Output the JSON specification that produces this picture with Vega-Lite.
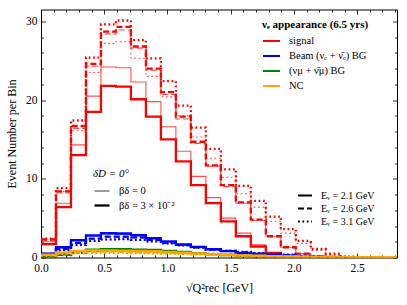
{
  "$schema": "https://vega.github.io/schema/vega-lite/v6.json",
  "width": 356,
  "height": 248,
  "autosize": "none",
  "padding": {"left": 41, "top": 9.5, "right": 10, "bottom": 47.5},
  "config": {
    "font": "Liberation Serif",
    "view": {"stroke": null},
    "axis": {"grid": false, "domainColor": "black", "domainWidth": 1, "tickColor": "black", "tickWidth": 0.8, "labelColor": "black", "titleColor": "black", "labelFont": "Liberation Serif", "titleFont": "Liberation Serif", "labelFontSize": 11.5, "titleFontSize": 12, "titleFontWeight": "normal", "labelOverlap": false, "labelFlush": false},
    "legend": {"labelFont": "Liberation Serif", "titleFont": "Liberation Serif", "labelFontSize": 10.5, "labelColor": "black", "titleColor": "black"}
  },
  "layer": [
    {
      "data": {"values": [
        {"c":"s","b":"3","e":"2.1","x":0,"y":1.7},{"c":"s","b":"3","e":"2.1","x":0.1185,"y":6.4},{"c":"s","b":"3","e":"2.1","x":0.237,"y":13.0},{"c":"s","b":"3","e":"2.1","x":0.3555,"y":18.5},{"c":"s","b":"3","e":"2.1","x":0.474,"y":21.8},{"c":"s","b":"3","e":"2.1","x":0.5925,"y":21.7},{"c":"s","b":"3","e":"2.1","x":0.711,"y":20.1},{"c":"s","b":"3","e":"2.1","x":0.8295,"y":17.9},{"c":"s","b":"3","e":"2.1","x":0.948,"y":15.0},{"c":"s","b":"3","e":"2.1","x":1.0665,"y":12.2},{"c":"s","b":"3","e":"2.1","x":1.185,"y":9.2},{"c":"s","b":"3","e":"2.1","x":1.3035,"y":6.9},{"c":"s","b":"3","e":"2.1","x":1.422,"y":4.6},{"c":"s","b":"3","e":"2.1","x":1.5405,"y":2.7},{"c":"s","b":"3","e":"2.1","x":1.659,"y":1.4},{"c":"s","b":"3","e":"2.1","x":1.7775,"y":0.6},{"c":"s","b":"3","e":"2.1","x":1.896,"y":0.2},{"c":"s","b":"3","e":"2.1","x":2.0145,"y":0},
        {"c":"s","b":"0","e":"2.1","x":0,"y":2.0},{"c":"s","b":"0","e":"2.1","x":0.1185,"y":6.9},{"c":"s","b":"0","e":"2.1","x":0.237,"y":14.3},{"c":"s","b":"0","e":"2.1","x":0.3555,"y":20.5},{"c":"s","b":"0","e":"2.1","x":0.474,"y":24.2},{"c":"s","b":"0","e":"2.1","x":0.5925,"y":24.1},{"c":"s","b":"0","e":"2.1","x":0.711,"y":22.3},{"c":"s","b":"0","e":"2.1","x":0.8295,"y":19.8},{"c":"s","b":"0","e":"2.1","x":0.948,"y":16.6},{"c":"s","b":"0","e":"2.1","x":1.0665,"y":13.5},{"c":"s","b":"0","e":"2.1","x":1.185,"y":10.3},{"c":"s","b":"0","e":"2.1","x":1.3035,"y":7.6},{"c":"s","b":"0","e":"2.1","x":1.422,"y":5.0},{"c":"s","b":"0","e":"2.1","x":1.5405,"y":3.1},{"c":"s","b":"0","e":"2.1","x":1.659,"y":1.6},{"c":"s","b":"0","e":"2.1","x":1.7775,"y":0.6},{"c":"s","b":"0","e":"2.1","x":1.896,"y":0.2},{"c":"s","b":"0","e":"2.1","x":2.0145,"y":0},
        {"c":"s","b":"3","e":"2.6","x":0,"y":2.3},{"c":"s","b":"3","e":"2.6","x":0.1185,"y":8.4},{"c":"s","b":"3","e":"2.6","x":0.237,"y":16.7},{"c":"s","b":"3","e":"2.6","x":0.3555,"y":24.6},{"c":"s","b":"3","e":"2.6","x":0.474,"y":28.7},{"c":"s","b":"3","e":"2.6","x":0.5925,"y":29.3},{"c":"s","b":"3","e":"2.6","x":0.711,"y":26.8},{"c":"s","b":"3","e":"2.6","x":0.8295,"y":24.0},{"c":"s","b":"3","e":"2.6","x":0.948,"y":21.0},{"c":"s","b":"3","e":"2.6","x":1.0665,"y":17.9},{"c":"s","b":"3","e":"2.6","x":1.185,"y":14.7},{"c":"s","b":"3","e":"2.6","x":1.3035,"y":11.7},{"c":"s","b":"3","e":"2.6","x":1.422,"y":9.2},{"c":"s","b":"3","e":"2.6","x":1.5405,"y":7.0},{"c":"s","b":"3","e":"2.6","x":1.659,"y":4.8},{"c":"s","b":"3","e":"2.6","x":1.7775,"y":2.7},{"c":"s","b":"3","e":"2.6","x":1.896,"y":1.3},{"c":"s","b":"3","e":"2.6","x":2.0145,"y":0.5},{"c":"s","b":"3","e":"2.6","x":2.133,"y":0.1},{"c":"s","b":"3","e":"2.6","x":2.2515,"y":0},
        {"c":"s","b":"0","e":"2.6","x":0,"y":2.2},{"c":"s","b":"0","e":"2.6","x":0.1185,"y":8.2},{"c":"s","b":"0","e":"2.6","x":0.237,"y":16.4},{"c":"s","b":"0","e":"2.6","x":0.3555,"y":24.3},{"c":"s","b":"0","e":"2.6","x":0.474,"y":28.4},{"c":"s","b":"0","e":"2.6","x":0.5925,"y":28.9},{"c":"s","b":"0","e":"2.6","x":0.711,"y":26.6},{"c":"s","b":"0","e":"2.6","x":0.8295,"y":23.8},{"c":"s","b":"0","e":"2.6","x":0.948,"y":20.7},{"c":"s","b":"0","e":"2.6","x":1.0665,"y":17.6},{"c":"s","b":"0","e":"2.6","x":1.185,"y":14.5},{"c":"s","b":"0","e":"2.6","x":1.3035,"y":11.6},{"c":"s","b":"0","e":"2.6","x":1.422,"y":9.0},{"c":"s","b":"0","e":"2.6","x":1.5405,"y":6.9},{"c":"s","b":"0","e":"2.6","x":1.659,"y":4.7},{"c":"s","b":"0","e":"2.6","x":1.7775,"y":2.7},{"c":"s","b":"0","e":"2.6","x":1.896,"y":1.3},{"c":"s","b":"0","e":"2.6","x":2.0145,"y":0.5},{"c":"s","b":"0","e":"2.6","x":2.133,"y":0.1},{"c":"s","b":"0","e":"2.6","x":2.2515,"y":0},
        {"c":"s","b":"3","e":"3.1","x":0,"y":2.4},{"c":"s","b":"3","e":"3.1","x":0.1185,"y":8.8},{"c":"s","b":"3","e":"3.1","x":0.237,"y":17.4},{"c":"s","b":"3","e":"3.1","x":0.3555,"y":25.4},{"c":"s","b":"3","e":"3.1","x":0.474,"y":29.6},{"c":"s","b":"3","e":"3.1","x":0.5925,"y":30.1},{"c":"s","b":"3","e":"3.1","x":0.711,"y":27.6},{"c":"s","b":"3","e":"3.1","x":0.8295,"y":25.3},{"c":"s","b":"3","e":"3.1","x":0.948,"y":22.4},{"c":"s","b":"3","e":"3.1","x":1.0665,"y":19.3},{"c":"s","b":"3","e":"3.1","x":1.185,"y":16.5},{"c":"s","b":"3","e":"3.1","x":1.3035,"y":13.8},{"c":"s","b":"3","e":"3.1","x":1.422,"y":11.2},{"c":"s","b":"3","e":"3.1","x":1.5405,"y":9.1},{"c":"s","b":"3","e":"3.1","x":1.659,"y":7.2},{"c":"s","b":"3","e":"3.1","x":1.7775,"y":5.2},{"c":"s","b":"3","e":"3.1","x":1.896,"y":3.6},{"c":"s","b":"3","e":"3.1","x":2.0145,"y":2.1},{"c":"s","b":"3","e":"3.1","x":2.133,"y":1.1},{"c":"s","b":"3","e":"3.1","x":2.2515,"y":0.5},{"c":"s","b":"3","e":"3.1","x":2.37,"y":0.1},{"c":"s","b":"3","e":"3.1","x":2.4885,"y":0},
        {"c":"s","b":"0","e":"3.1","x":0,"y":2.2},{"c":"s","b":"0","e":"3.1","x":0.1185,"y":8.4},{"c":"s","b":"0","e":"3.1","x":0.237,"y":16.1},{"c":"s","b":"0","e":"3.1","x":0.3555,"y":23.5},{"c":"s","b":"0","e":"3.1","x":0.474,"y":27.2},{"c":"s","b":"0","e":"3.1","x":0.5925,"y":27.4},{"c":"s","b":"0","e":"3.1","x":0.711,"y":25.3},{"c":"s","b":"0","e":"3.1","x":0.8295,"y":23.0},{"c":"s","b":"0","e":"3.1","x":0.948,"y":20.4},{"c":"s","b":"0","e":"3.1","x":1.0665,"y":18.0},{"c":"s","b":"0","e":"3.1","x":1.185,"y":15.3},{"c":"s","b":"0","e":"3.1","x":1.3035,"y":12.6},{"c":"s","b":"0","e":"3.1","x":1.422,"y":10.2},{"c":"s","b":"0","e":"3.1","x":1.5405,"y":8.1},{"c":"s","b":"0","e":"3.1","x":1.659,"y":6.4},{"c":"s","b":"0","e":"3.1","x":1.7775,"y":4.6},{"c":"s","b":"0","e":"3.1","x":1.896,"y":3.1},{"c":"s","b":"0","e":"3.1","x":2.0145,"y":1.8},{"c":"s","b":"0","e":"3.1","x":2.133,"y":0.9},{"c":"s","b":"0","e":"3.1","x":2.2515,"y":0.4},{"c":"s","b":"0","e":"3.1","x":2.37,"y":0.1},{"c":"s","b":"0","e":"3.1","x":2.4885,"y":0},
        {"c":"b","b":"3","e":"2.1","x":0,"y":0.5},{"c":"b","b":"3","e":"2.1","x":0.1185,"y":1.3},{"c":"b","b":"3","e":"2.1","x":0.237,"y":2.2},{"c":"b","b":"3","e":"2.1","x":0.3555,"y":2.8},{"c":"b","b":"3","e":"2.1","x":0.474,"y":3.1},{"c":"b","b":"3","e":"2.1","x":0.5925,"y":3.05},{"c":"b","b":"3","e":"2.1","x":0.711,"y":2.85},{"c":"b","b":"3","e":"2.1","x":0.8295,"y":2.45},{"c":"b","b":"3","e":"2.1","x":0.948,"y":2.05},{"c":"b","b":"3","e":"2.1","x":1.0665,"y":1.65},{"c":"b","b":"3","e":"2.1","x":1.185,"y":1.35},{"c":"b","b":"3","e":"2.1","x":1.3035,"y":1.05},{"c":"b","b":"3","e":"2.1","x":1.422,"y":0.8},{"c":"b","b":"3","e":"2.1","x":1.5405,"y":0.6},{"c":"b","b":"3","e":"2.1","x":1.659,"y":0.45},{"c":"b","b":"3","e":"2.1","x":1.7775,"y":0.3},{"c":"b","b":"3","e":"2.1","x":1.896,"y":0.2},{"c":"b","b":"3","e":"2.1","x":2.0145,"y":0.1},{"c":"b","b":"3","e":"2.1","x":2.133,"y":0.05},{"c":"b","b":"3","e":"2.1","x":2.2515,"y":0},
        {"c":"b","b":"0","e":"2.1","x":0,"y":0.5},{"c":"b","b":"0","e":"2.1","x":0.1185,"y":1.25},{"c":"b","b":"0","e":"2.1","x":0.237,"y":2.1},{"c":"b","b":"0","e":"2.1","x":0.3555,"y":2.7},{"c":"b","b":"0","e":"2.1","x":0.474,"y":2.95},{"c":"b","b":"0","e":"2.1","x":0.5925,"y":2.95},{"c":"b","b":"0","e":"2.1","x":0.711,"y":2.75},{"c":"b","b":"0","e":"2.1","x":0.8295,"y":2.35},{"c":"b","b":"0","e":"2.1","x":0.948,"y":1.95},{"c":"b","b":"0","e":"2.1","x":1.0665,"y":1.55},{"c":"b","b":"0","e":"2.1","x":1.185,"y":1.25},{"c":"b","b":"0","e":"2.1","x":1.3035,"y":1.0},{"c":"b","b":"0","e":"2.1","x":1.422,"y":0.8},{"c":"b","b":"0","e":"2.1","x":1.5405,"y":0.6},{"c":"b","b":"0","e":"2.1","x":1.659,"y":0.45},{"c":"b","b":"0","e":"2.1","x":1.7775,"y":0.35},{"c":"b","b":"0","e":"2.1","x":1.896,"y":0.25},{"c":"b","b":"0","e":"2.1","x":2.0145,"y":0.15},{"c":"b","b":"0","e":"2.1","x":2.133,"y":0.1},{"c":"b","b":"0","e":"2.1","x":2.2515,"y":0},
        {"c":"b","b":"3","e":"2.6","x":0,"y":0.45},{"c":"b","b":"3","e":"2.6","x":0.1185,"y":1.1},{"c":"b","b":"3","e":"2.6","x":0.237,"y":1.85},{"c":"b","b":"3","e":"2.6","x":0.3555,"y":2.4},{"c":"b","b":"3","e":"2.6","x":0.474,"y":2.65},{"c":"b","b":"3","e":"2.6","x":0.5925,"y":2.65},{"c":"b","b":"3","e":"2.6","x":0.711,"y":2.55},{"c":"b","b":"3","e":"2.6","x":0.8295,"y":2.25},{"c":"b","b":"3","e":"2.6","x":0.948,"y":1.9},{"c":"b","b":"3","e":"2.6","x":1.0665,"y":1.6},{"c":"b","b":"3","e":"2.6","x":1.185,"y":1.3},{"c":"b","b":"3","e":"2.6","x":1.3035,"y":1.05},{"c":"b","b":"3","e":"2.6","x":1.422,"y":0.85},{"c":"b","b":"3","e":"2.6","x":1.5405,"y":0.65},{"c":"b","b":"3","e":"2.6","x":1.659,"y":0.5},{"c":"b","b":"3","e":"2.6","x":1.7775,"y":0.4},{"c":"b","b":"3","e":"2.6","x":1.896,"y":0.3},{"c":"b","b":"3","e":"2.6","x":2.0145,"y":0.2},{"c":"b","b":"3","e":"2.6","x":2.133,"y":0.12},{"c":"b","b":"3","e":"2.6","x":2.2515,"y":0.06},{"c":"b","b":"3","e":"2.6","x":2.37,"y":0},
        {"c":"b","b":"0","e":"2.6","x":0,"y":0.45},{"c":"b","b":"0","e":"2.6","x":0.1185,"y":1.05},{"c":"b","b":"0","e":"2.6","x":0.237,"y":1.8},{"c":"b","b":"0","e":"2.6","x":0.3555,"y":2.35},{"c":"b","b":"0","e":"2.6","x":0.474,"y":2.6},{"c":"b","b":"0","e":"2.6","x":0.5925,"y":2.6},{"c":"b","b":"0","e":"2.6","x":0.711,"y":2.5},{"c":"b","b":"0","e":"2.6","x":0.8295,"y":2.2},{"c":"b","b":"0","e":"2.6","x":0.948,"y":1.85},{"c":"b","b":"0","e":"2.6","x":1.0665,"y":1.55},{"c":"b","b":"0","e":"2.6","x":1.185,"y":1.25},{"c":"b","b":"0","e":"2.6","x":1.3035,"y":1.0},{"c":"b","b":"0","e":"2.6","x":1.422,"y":0.8},{"c":"b","b":"0","e":"2.6","x":1.5405,"y":0.62},{"c":"b","b":"0","e":"2.6","x":1.659,"y":0.48},{"c":"b","b":"0","e":"2.6","x":1.7775,"y":0.38},{"c":"b","b":"0","e":"2.6","x":1.896,"y":0.28},{"c":"b","b":"0","e":"2.6","x":2.0145,"y":0.18},{"c":"b","b":"0","e":"2.6","x":2.133,"y":0.11},{"c":"b","b":"0","e":"2.6","x":2.2515,"y":0.05},{"c":"b","b":"0","e":"2.6","x":2.37,"y":0},
        {"c":"b","b":"3","e":"3.1","x":0,"y":0.4},{"c":"b","b":"3","e":"3.1","x":0.1185,"y":0.95},{"c":"b","b":"3","e":"3.1","x":0.237,"y":1.6},{"c":"b","b":"3","e":"3.1","x":0.3555,"y":2.1},{"c":"b","b":"3","e":"3.1","x":0.474,"y":2.3},{"c":"b","b":"3","e":"3.1","x":0.5925,"y":2.35},{"c":"b","b":"3","e":"3.1","x":0.711,"y":2.25},{"c":"b","b":"3","e":"3.1","x":0.8295,"y":2.05},{"c":"b","b":"3","e":"3.1","x":0.948,"y":1.8},{"c":"b","b":"3","e":"3.1","x":1.0665,"y":1.55},{"c":"b","b":"3","e":"3.1","x":1.185,"y":1.3},{"c":"b","b":"3","e":"3.1","x":1.3035,"y":1.05},{"c":"b","b":"3","e":"3.1","x":1.422,"y":0.85},{"c":"b","b":"3","e":"3.1","x":1.5405,"y":0.7},{"c":"b","b":"3","e":"3.1","x":1.659,"y":0.55},{"c":"b","b":"3","e":"3.1","x":1.7775,"y":0.45},{"c":"b","b":"3","e":"3.1","x":1.896,"y":0.35},{"c":"b","b":"3","e":"3.1","x":2.0145,"y":0.25},{"c":"b","b":"3","e":"3.1","x":2.133,"y":0.17},{"c":"b","b":"3","e":"3.1","x":2.2515,"y":0.1},{"c":"b","b":"3","e":"3.1","x":2.37,"y":0.05},{"c":"b","b":"3","e":"3.1","x":2.4885,"y":0},
        {"c":"b","b":"0","e":"3.1","x":0,"y":0.4},{"c":"b","b":"0","e":"3.1","x":0.1185,"y":0.9},{"c":"b","b":"0","e":"3.1","x":0.237,"y":1.55},{"c":"b","b":"0","e":"3.1","x":0.3555,"y":2.05},{"c":"b","b":"0","e":"3.1","x":0.474,"y":2.25},{"c":"b","b":"0","e":"3.1","x":0.5925,"y":2.3},{"c":"b","b":"0","e":"3.1","x":0.711,"y":2.2},{"c":"b","b":"0","e":"3.1","x":0.8295,"y":2.0},{"c":"b","b":"0","e":"3.1","x":0.948,"y":1.75},{"c":"b","b":"0","e":"3.1","x":1.0665,"y":1.5},{"c":"b","b":"0","e":"3.1","x":1.185,"y":1.25},{"c":"b","b":"0","e":"3.1","x":1.3035,"y":1.0},{"c":"b","b":"0","e":"3.1","x":1.422,"y":0.82},{"c":"b","b":"0","e":"3.1","x":1.5405,"y":0.67},{"c":"b","b":"0","e":"3.1","x":1.659,"y":0.53},{"c":"b","b":"0","e":"3.1","x":1.7775,"y":0.43},{"c":"b","b":"0","e":"3.1","x":1.896,"y":0.33},{"c":"b","b":"0","e":"3.1","x":2.0145,"y":0.23},{"c":"b","b":"0","e":"3.1","x":2.133,"y":0.15},{"c":"b","b":"0","e":"3.1","x":2.2515,"y":0.09},{"c":"b","b":"0","e":"3.1","x":2.37,"y":0.04},{"c":"b","b":"0","e":"3.1","x":2.4885,"y":0},
        {"c":"m","b":"3","e":"2.1","x":0,"y":0.1},{"c":"m","b":"3","e":"2.1","x":0.1185,"y":0.4},{"c":"m","b":"3","e":"2.1","x":0.237,"y":0.8},{"c":"m","b":"3","e":"2.1","x":0.3555,"y":1.0},{"c":"m","b":"3","e":"2.1","x":0.474,"y":1.05},{"c":"m","b":"3","e":"2.1","x":0.5925,"y":1.05},{"c":"m","b":"3","e":"2.1","x":0.711,"y":1.0},{"c":"m","b":"3","e":"2.1","x":0.8295,"y":0.95},{"c":"m","b":"3","e":"2.1","x":0.948,"y":0.85},{"c":"m","b":"3","e":"2.1","x":1.0665,"y":0.7},{"c":"m","b":"3","e":"2.1","x":1.185,"y":0.55},{"c":"m","b":"3","e":"2.1","x":1.3035,"y":0.42},{"c":"m","b":"3","e":"2.1","x":1.422,"y":0.3},{"c":"m","b":"3","e":"2.1","x":1.5405,"y":0.2},{"c":"m","b":"3","e":"2.1","x":1.659,"y":0.14},{"c":"m","b":"3","e":"2.1","x":1.7775,"y":0.1},{"c":"m","b":"3","e":"2.1","x":1.896,"y":0.06},{"c":"m","b":"3","e":"2.1","x":2.0145,"y":0.04},{"c":"m","b":"3","e":"2.1","x":2.133,"y":0.02},{"c":"m","b":"3","e":"2.1","x":2.2515,"y":0},
        {"c":"m","b":"3","e":"2.6","x":0,"y":0.1},{"c":"m","b":"3","e":"2.6","x":0.1185,"y":0.35},{"c":"m","b":"3","e":"2.6","x":0.237,"y":0.7},{"c":"m","b":"3","e":"2.6","x":0.3555,"y":0.9},{"c":"m","b":"3","e":"2.6","x":0.474,"y":0.95},{"c":"m","b":"3","e":"2.6","x":0.5925,"y":0.95},{"c":"m","b":"3","e":"2.6","x":0.711,"y":0.92},{"c":"m","b":"3","e":"2.6","x":0.8295,"y":0.88},{"c":"m","b":"3","e":"2.6","x":0.948,"y":0.8},{"c":"m","b":"3","e":"2.6","x":1.0665,"y":0.68},{"c":"m","b":"3","e":"2.6","x":1.185,"y":0.56},{"c":"m","b":"3","e":"2.6","x":1.3035,"y":0.44},{"c":"m","b":"3","e":"2.6","x":1.422,"y":0.33},{"c":"m","b":"3","e":"2.6","x":1.5405,"y":0.24},{"c":"m","b":"3","e":"2.6","x":1.659,"y":0.17},{"c":"m","b":"3","e":"2.6","x":1.7775,"y":0.12},{"c":"m","b":"3","e":"2.6","x":1.896,"y":0.08},{"c":"m","b":"3","e":"2.6","x":2.0145,"y":0.05},{"c":"m","b":"3","e":"2.6","x":2.133,"y":0.03},{"c":"m","b":"3","e":"2.6","x":2.2515,"y":0.02},{"c":"m","b":"3","e":"2.6","x":2.37,"y":0},
        {"c":"m","b":"3","e":"3.1","x":0,"y":0.1},{"c":"m","b":"3","e":"3.1","x":0.1185,"y":0.3},{"c":"m","b":"3","e":"3.1","x":0.237,"y":0.6},{"c":"m","b":"3","e":"3.1","x":0.3555,"y":0.8},{"c":"m","b":"3","e":"3.1","x":0.474,"y":0.85},{"c":"m","b":"3","e":"3.1","x":0.5925,"y":0.85},{"c":"m","b":"3","e":"3.1","x":0.711,"y":0.83},{"c":"m","b":"3","e":"3.1","x":0.8295,"y":0.8},{"c":"m","b":"3","e":"3.1","x":0.948,"y":0.74},{"c":"m","b":"3","e":"3.1","x":1.0665,"y":0.65},{"c":"m","b":"3","e":"3.1","x":1.185,"y":0.55},{"c":"m","b":"3","e":"3.1","x":1.3035,"y":0.45},{"c":"m","b":"3","e":"3.1","x":1.422,"y":0.35},{"c":"m","b":"3","e":"3.1","x":1.5405,"y":0.27},{"c":"m","b":"3","e":"3.1","x":1.659,"y":0.2},{"c":"m","b":"3","e":"3.1","x":1.7775,"y":0.14},{"c":"m","b":"3","e":"3.1","x":1.896,"y":0.1},{"c":"m","b":"3","e":"3.1","x":2.0145,"y":0.07},{"c":"m","b":"3","e":"3.1","x":2.133,"y":0.04},{"c":"m","b":"3","e":"3.1","x":2.2515,"y":0.03},{"c":"m","b":"3","e":"3.1","x":2.37,"y":0.02},{"c":"m","b":"3","e":"3.1","x":2.4885,"y":0},
        {"c":"n","b":"3","e":"2.1","x":0,"y":0.35},{"c":"n","b":"3","e":"2.1","x":0.1185,"y":0.65},{"c":"n","b":"3","e":"2.1","x":0.237,"y":0.85},{"c":"n","b":"3","e":"2.1","x":0.3555,"y":0.9},{"c":"n","b":"3","e":"2.1","x":0.474,"y":0.9},{"c":"n","b":"3","e":"2.1","x":0.5925,"y":0.88},{"c":"n","b":"3","e":"2.1","x":0.711,"y":0.85},{"c":"n","b":"3","e":"2.1","x":0.8295,"y":0.8},{"c":"n","b":"3","e":"2.1","x":0.948,"y":0.72},{"c":"n","b":"3","e":"2.1","x":1.0665,"y":0.62},{"c":"n","b":"3","e":"2.1","x":1.185,"y":0.52},{"c":"n","b":"3","e":"2.1","x":1.3035,"y":0.43},{"c":"n","b":"3","e":"2.1","x":1.422,"y":0.35},{"c":"n","b":"3","e":"2.1","x":1.5405,"y":0.28},{"c":"n","b":"3","e":"2.1","x":1.659,"y":0.22},{"c":"n","b":"3","e":"2.1","x":1.7775,"y":0.17},{"c":"n","b":"3","e":"2.1","x":1.896,"y":0.13},{"c":"n","b":"3","e":"2.1","x":2.0145,"y":0.1},{"c":"n","b":"3","e":"2.1","x":2.133,"y":0.08},{"c":"n","b":"3","e":"2.1","x":2.2515,"y":0.06},{"c":"n","b":"3","e":"2.1","x":2.37,"y":0.05},{"c":"n","b":"3","e":"2.1","x":2.4885,"y":0.04},{"c":"n","b":"3","e":"2.1","x":2.607,"y":0.03},{"c":"n","b":"3","e":"2.1","x":2.7255,"y":0.02},{"c":"n","b":"3","e":"2.1","x":2.844,"y":0},
        {"c":"n","b":"3","e":"2.6","x":0,"y":0.3},{"c":"n","b":"3","e":"2.6","x":0.1185,"y":0.55},{"c":"n","b":"3","e":"2.6","x":0.237,"y":0.7},{"c":"n","b":"3","e":"2.6","x":0.3555,"y":0.75},{"c":"n","b":"3","e":"2.6","x":0.474,"y":0.75},{"c":"n","b":"3","e":"2.6","x":0.5925,"y":0.73},{"c":"n","b":"3","e":"2.6","x":0.711,"y":0.7},{"c":"n","b":"3","e":"2.6","x":0.8295,"y":0.66},{"c":"n","b":"3","e":"2.6","x":0.948,"y":0.6},{"c":"n","b":"3","e":"2.6","x":1.0665,"y":0.52},{"c":"n","b":"3","e":"2.6","x":1.185,"y":0.45},{"c":"n","b":"3","e":"2.6","x":1.3035,"y":0.38},{"c":"n","b":"3","e":"2.6","x":1.422,"y":0.31},{"c":"n","b":"3","e":"2.6","x":1.5405,"y":0.25},{"c":"n","b":"3","e":"2.6","x":1.659,"y":0.2},{"c":"n","b":"3","e":"2.6","x":1.7775,"y":0.16},{"c":"n","b":"3","e":"2.6","x":1.896,"y":0.12},{"c":"n","b":"3","e":"2.6","x":2.0145,"y":0.1},{"c":"n","b":"3","e":"2.6","x":2.133,"y":0.08},{"c":"n","b":"3","e":"2.6","x":2.2515,"y":0.06},{"c":"n","b":"3","e":"2.6","x":2.37,"y":0.05},{"c":"n","b":"3","e":"2.6","x":2.4885,"y":0.04},{"c":"n","b":"3","e":"2.6","x":2.607,"y":0.03},{"c":"n","b":"3","e":"2.6","x":2.7255,"y":0.02},{"c":"n","b":"3","e":"2.6","x":2.844,"y":0},
        {"c":"n","b":"3","e":"3.1","x":0,"y":0.25},{"c":"n","b":"3","e":"3.1","x":0.1185,"y":0.45},{"c":"n","b":"3","e":"3.1","x":0.237,"y":0.55},{"c":"n","b":"3","e":"3.1","x":0.3555,"y":0.6},{"c":"n","b":"3","e":"3.1","x":0.474,"y":0.6},{"c":"n","b":"3","e":"3.1","x":0.5925,"y":0.58},{"c":"n","b":"3","e":"3.1","x":0.711,"y":0.56},{"c":"n","b":"3","e":"3.1","x":0.8295,"y":0.53},{"c":"n","b":"3","e":"3.1","x":0.948,"y":0.49},{"c":"n","b":"3","e":"3.1","x":1.0665,"y":0.44},{"c":"n","b":"3","e":"3.1","x":1.185,"y":0.39},{"c":"n","b":"3","e":"3.1","x":1.3035,"y":0.34},{"c":"n","b":"3","e":"3.1","x":1.422,"y":0.29},{"c":"n","b":"3","e":"3.1","x":1.5405,"y":0.24},{"c":"n","b":"3","e":"3.1","x":1.659,"y":0.2},{"c":"n","b":"3","e":"3.1","x":1.7775,"y":0.16},{"c":"n","b":"3","e":"3.1","x":1.896,"y":0.13},{"c":"n","b":"3","e":"3.1","x":2.0145,"y":0.1},{"c":"n","b":"3","e":"3.1","x":2.133,"y":0.08},{"c":"n","b":"3","e":"3.1","x":2.2515,"y":0.07},{"c":"n","b":"3","e":"3.1","x":2.37,"y":0.06},{"c":"n","b":"3","e":"3.1","x":2.4885,"y":0.05},{"c":"n","b":"3","e":"3.1","x":2.607,"y":0.04},{"c":"n","b":"3","e":"3.1","x":2.7255,"y":0.03},{"c":"n","b":"3","e":"3.1","x":2.844,"y":0}
      ]},
      "mark": {"type": "line", "interpolate": "step-after", "clip": true, "strokeJoin": "miter", "strokeCap": "butt"},
      "encoding": {
        "x": {"field": "x", "type": "quantitative", "scale": {"domain": [0, 2.815], "nice": false, "zero": false},
          "axis": {"orient": "bottom", "values": [0,0.1,0.2,0.3,0.4,0.5,0.6,0.7,0.8,0.9,1,1.1,1.2,1.3,1.4,1.5,1.6,1.7,1.8,1.9,2,2.1,2.2,2.3,2.4,2.5,2.6,2.7,2.8],
            "labelExpr": "abs(datum.value*2-round(datum.value*2))<0.001 ? format(datum.value,'.1f') : ''",
            "tickSize": {"condition": {"test": "abs(datum.value*2-round(datum.value*2))<0.001", "value": -4.5}, "value": -2.5},
            "labelPadding": 9, "title": "√Q²rec [GeV]", "titlePadding": 7}},
        "y": {"field": "y", "type": "quantitative", "scale": {"domain": [0, 31.5], "nice": false},
          "axis": {"orient": "left", "values": [0,2,4,6,8,10,12,14,16,18,20,22,24,26,28,30],
            "labelExpr": "datum.value % 10 == 0 ? datum.value : ''",
            "tickSize": {"condition": {"test": "datum.value % 10 == 0", "value": -4.5}, "value": -2.5},
            "labelPadding": 8.5, "title": "Event Number per Bin", "titlePadding": 7}},
        "color": {"field": "c", "type": "nominal",
          "scale": {"domain": ["s","b","m","n"], "range": ["#ff0000","#0000ff","#008000","#ffa500"]},
          "legend": {"orient": "none", "legendX": 221, "legendY": 9, "title": "νₑ appearance (6.5 yrs)", "titleFontWeight": "bold", "titleFontSize": 11, "titlePadding": 2,
            "symbolType": "stroke", "symbolStrokeWidth": 2, "symbolSize": 289, "labelOffset": 8, "rowPadding": 0,
            "labelExpr": "datum.label == 's' ? 'signal' : datum.label == 'b' ? 'Beam (νₑ + ν̄ₑ) BG' : datum.label == 'm' ? '(νμ + ν̄μ) BG' : 'NC'"}},
        "strokeWidth": {"field": "b", "type": "ordinal",
          "scale": {"domain": ["0","3"], "range": [1.1, 2.3]},
          "legend": {"orient": "none", "legendX": 52, "legendY": 158, "title": "δD = 0°", "titleFontWeight": "normal", "titleFontStyle": "italic", "titleFontSize": 11, "titlePadding": 4,
            "symbolType": "stroke", "symbolStrokeColor": "black", "symbolOpacity": 1, "symbolSize": 225, "labelOffset": 8, "rowPadding": 0,
            "labelExpr": "datum.label == '0' ? 'βδ = 0' : 'βδ = 3 × 10⁻²'"}},
        "strokeDash": {"field": "e", "type": "nominal",
          "scale": {"domain": ["2.1","2.6","3.1"], "range": [[1,0],[6,3],[1.8,2.6]]},
          "legend": {"orient": "none", "legendX": 256, "legendY": 178, "title": null,
            "symbolType": "stroke", "symbolStrokeColor": "black", "symbolStrokeWidth": 2, "symbolSize": 196, "labelOffset": 8, "rowPadding": 0, "labelFontSize": 10,
            "labelExpr": "'Eᵥ = ' + datum.label + ' GeV'"}},
        "opacity": {"field": "b", "type": "ordinal", "scale": {"domain": ["0","3"], "range": [0.7, 1]}, "legend": null}
      }
    },
    {
      "data": {"values": [{"x": 0, "y": 0}]},
      "mark": {"type": "point", "opacity": 0},
      "encoding": {
        "x": {"field": "x", "type": "quantitative", "scale": {"domain": [0, 2.815], "nice": false, "zero": false},
          "axis": {"orient": "top", "values": [0,0.1,0.2,0.3,0.4,0.5,0.6,0.7,0.8,0.9,1,1.1,1.2,1.3,1.4,1.5,1.6,1.7,1.8,1.9,2,2.1,2.2,2.3,2.4,2.5,2.6,2.7,2.8],
            "labels": false, "title": null,
            "tickSize": {"condition": {"test": "abs(datum.value*2-round(datum.value*2))<0.001", "value": -4.5}, "value": -2.5}}},
        "y": {"field": "y", "type": "quantitative", "scale": {"domain": [0, 31.5], "nice": false},
          "axis": {"orient": "right", "values": [0,2,4,6,8,10,12,14,16,18,20,22,24,26,28,30],
            "labels": false, "title": null,
            "tickSize": {"condition": {"test": "datum.value % 10 == 0", "value": -4.5}, "value": -2.5}}}
      }
    }
  ],
  "resolve": {"axis": {"x": "independent", "y": "independent"}}
}
